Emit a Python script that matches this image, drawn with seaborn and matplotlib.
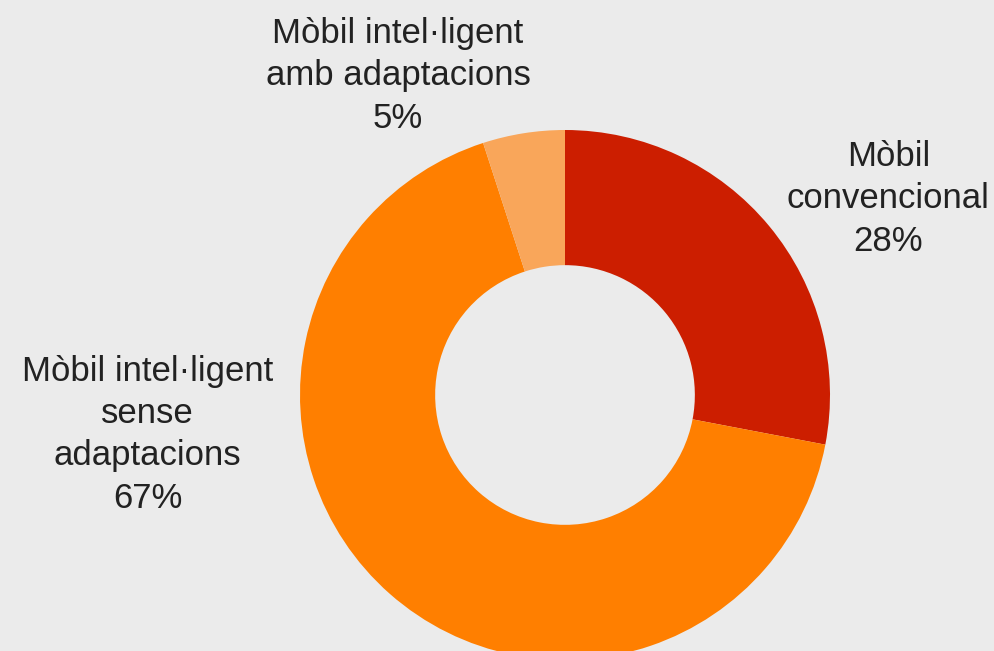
import matplotlib
matplotlib.use('Agg')
import matplotlib.pyplot as plt
import seaborn as sns

# Data
categories = ['Mòbil\nconvencional', 'Mòbil intel·ligent\nsense\nadaptacions',
              'Mòbil intel·ligent\namb adaptacions']
shares = [28, 67, 5]
colors = ['#CC1E00', '#FF7F00', '#F9A65A']

sns.set_theme(style='white')
plt.rcParams['font.family'] = ['Liberation Sans', 'DejaVu Sans']

bg = '#ebebeb'
fig = plt.figure(figsize=(9.95, 6.51), dpi=100, facecolor=bg)
ax = fig.add_axes([0, 0, 1, 1])
ax.set_facecolor(bg)

ax.pie(shares, colors=colors, startangle=90, counterclock=False, radius=1,
       wedgeprops=dict(width=0.51, edgecolor='none'))

# label placement (data units, pie radius = 1)
label_pos = [(1.22, 0.74), (-1.575, -0.15), (-0.63, 1.205)]
for cat, val, (x, y) in zip(categories, shares, label_pos):
    ax.text(x, y, f'{cat}\n{val}%', ha='center', va='center', fontsize=25,
            color='#222222', linespacing=1.36)

scale = 265.0
ax.set_xlim(-565 / scale, (995 - 565) / scale)
ax.set_ylim(-(651 - 395) / scale, 395 / scale)
ax.set_aspect('equal')
ax.axis('off')

fig.savefig('out.png', dpi=100, facecolor=bg)
